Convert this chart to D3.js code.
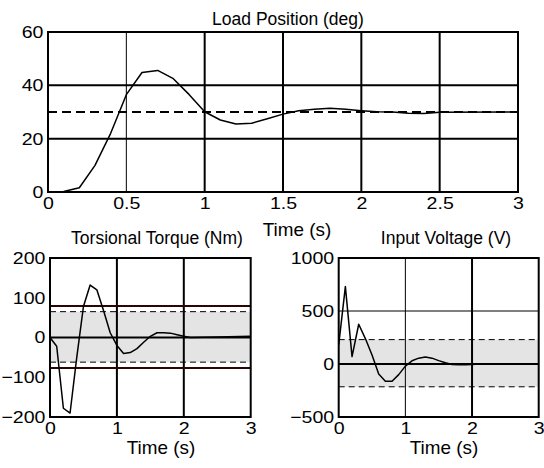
<!DOCTYPE html>
<html>
<head>
<meta charset="utf-8">
<script src="https://cdn.jsdelivr.net/npm/d3@7"></script>
<style>
  body { margin: 0; background: #fff; }
  svg { display: block; }
  text { font-family: "Liberation Sans", Arial, sans-serif; fill: #000; }
</style>
</head>
<body>
<svg></svg>
<script>
const width = 544;
const height = 468;

// Load position (deg)
const posTime = [0, 0.1, 0.2, 0.3, 0.4, 0.5, 0.6, 0.7, 0.8, 0.9, 1.0, 1.1, 1.2, 1.3, 1.4, 1.5, 1.6, 1.7, 1.8, 1.9, 2.0, 2.1, 2.2, 2.3, 2.4, 2.5, 3.0];
const posValues = [0, 0.2, 1.6, 10, 22, 36.5, 44.8, 45.6, 42.5, 36.6, 30.1, 27, 25.5, 25.8, 27.5, 29.2, 30.5, 31, 31.4, 31, 30.5, 30.1, 30, 29.5, 29.4, 29.9, 30];
const posSetpoint = 30;

// Torsional torque (Nm)
const torqueTime = [0, 0.1, 0.2, 0.3, 0.4, 0.5, 0.6, 0.7, 0.8, 0.9, 1.0, 1.1, 1.2, 1.3, 1.4, 1.5, 1.6, 1.7, 1.8, 1.9, 2.0, 2.1, 2.5, 3.0];
const torqueValues = [0, -22, -178, -190, -50, 78, 132, 120, 68, 12, -20, -40, -38, -28, -12, 3, 12, 12, 11, 7, 3, 0, 1, 3];
const torqueLimits = [79, -77];
const torqueBand = [65, -62];

// Input voltage (V)
const voltTime = [0, 0.1, 0.2, 0.3, 0.4, 0.5, 0.6, 0.7, 0.8, 0.9, 1.0, 1.1, 1.2, 1.3, 1.4, 1.5, 1.6, 1.7, 1.8, 1.9, 2.0, 2.1, 3.0];
const voltValues = [180, 730, 70, 375, 240, 85, -95, -162, -162, -100, -20, 30, 55, 65, 55, 32, 12, -5, -8, -8, -5, 0, 0];
const voltBand = [230, -215];

const svg = d3.select('svg')
	.attr('width', width)
	.attr('height', height);

const tickFont = 17;
const tickStretch = 1.15;
const titleFont = 17.5;
const labelFont = 18;

const drawPanel = opts => {
	const { left, right, top, bottom } = opts.box;
	const x = d3.scaleLinear().domain(opts.xDomain).range([left, right]);
	const y = d3.scaleLinear().domain(opts.yDomain).range([bottom, top]);
	const g = svg.append('g');

	// shaded band
	if (opts.band) {
		g.append('rect')
			.attr('x', left)
			.attr('y', y(opts.band[0]))
			.attr('width', right - left)
			.attr('height', y(opts.band[1]) - y(opts.band[0]))
			.attr('fill', '#e4e4e4');
	}

	// grid lines
	g.selectAll('.gx').data(opts.gridX)
		.enter().append('line')
		.attr('x1', d => x(d)).attr('x2', d => x(d))
		.attr('y1', top).attr('y2', bottom)
		.attr('stroke', '#000')
		.attr('stroke-width', d => opts.thinX.includes(d) ? 1 : 2);

	g.selectAll('.gy').data(opts.gridY)
		.enter().append('line')
		.attr('x1', left).attr('x2', right)
		.attr('y1', d => y(d)).attr('y2', d => y(d))
		.attr('stroke', '#000')
		.attr('stroke-width', d => opts.thinY.includes(d) ? 1 : 2);

	if (opts.band) {
		g.selectAll('.bd').data(opts.band)
			.enter().append('line')
			.attr('x1', left).attr('x2', right)
			.attr('y1', d => y(d)).attr('y2', d => y(d))
			.attr('stroke', '#000')
			.attr('stroke-width', 1)
			.attr('stroke-dasharray', '6,4');
	}

	if (opts.limits) {
		g.selectAll('.lim').data(opts.limits)
			.enter().append('line')
			.attr('x1', left).attr('x2', right)
			.attr('y1', d => y(d)).attr('y2', d => y(d))
			.attr('stroke', '#2a0505')
			.attr('stroke-width', 2);
	}

	if (opts.setpoint !== undefined) {
		g.append('line')
			.attr('x1', left).attr('x2', right)
			.attr('y1', y(opts.setpoint)).attr('y2', y(opts.setpoint))
			.attr('stroke', '#000')
			.attr('stroke-width', 2)
			.attr('stroke-dasharray', '9,5');
	}

	// response curve
	const line = d3.line()
		.x((d, i) => x(opts.time[i]))
		.y(d => y(d));
	g.append('path')
		.datum(opts.values)
		.attr('d', line)
		.attr('fill', 'none')
		.attr('stroke', '#000')
		.attr('stroke-width', 1.5)
		.attr('stroke-linejoin', 'round');

	// frame
	g.append('rect')
		.attr('x', left).attr('y', top)
		.attr('width', right - left).attr('height', bottom - top)
		.attr('fill', 'none')
		.attr('stroke', '#000')
		.attr('stroke-width', 2);

	// axes (labels only)
	const xAxisG = g.append('g')
		.attr('transform', `translate(0, ${bottom})`)
		.call(d3.axisBottom(x).tickValues(opts.xTicks).tickFormat(d3.format('')).tickSize(0).tickPadding(5));
	const yAxisG = g.append('g')
		.attr('transform', `translate(${left}, 0)`)
		.call(d3.axisLeft(y).tickValues(opts.yTicks).tickFormat(d3.format('')).tickSize(0).tickPadding(4));
	[xAxisG, yAxisG].forEach(a => {
		a.select('.domain').remove();
		a.selectAll('text')
			.attr('font-size', tickFont)
			.attr('font-family', null)
			.attr('fill', '#000')
			.attr('transform', `scale(${tickStretch}, 1)`);
	});

	g.append('text')
		.attr('transform', `translate(${opts.titlePos[0]}, ${opts.titlePos[1]})`)
		.attr('text-anchor', 'middle')
		.attr('font-size', titleFont)
		.text(opts.title);

	g.append('text')
		.attr('transform', `translate(${opts.xLabelPos[0]}, ${opts.xLabelPos[1]}) scale(1.05, 1)`)
		.attr('text-anchor', 'middle')
		.attr('font-size', labelFont)
		.text('Time (s)');
};

drawPanel({
	box: { left: 48, right: 518, top: 32, bottom: 192 },
	xDomain: [0, 3], yDomain: [0, 60],
	xTicks: [0, 0.5, 1, 1.5, 2, 2.5, 3],
	yTicks: [0, 20, 40, 60],
	gridX: [0.5, 1, 1.5, 2, 2.5], thinX: [0.5],
	gridY: [20, 40], thinY: [],
	setpoint: posSetpoint,
	time: posTime, values: posValues,
	title: 'Load Position (deg)', titlePos: [288, 25],
	xLabelPos: [297, 236]
});

drawPanel({
	box: { left: 50, right: 250.7, top: 258, bottom: 417 },
	xDomain: [0, 3], yDomain: [-200, 200],
	xTicks: [0, 1, 2, 3],
	yTicks: [-200, -100, 0, 100, 200],
	gridX: [1, 2], thinX: [],
	gridY: [0], thinY: [],
	band: torqueBand, limits: torqueLimits,
	time: torqueTime, values: torqueValues,
	title: 'Torsional Torque (Nm)', titlePos: [157, 244],
	xLabelPos: [161, 454]
});

drawPanel({
	box: { left: 338.7, right: 538.7, top: 258, bottom: 417 },
	xDomain: [0, 3], yDomain: [-500, 1000],
	xTicks: [0, 1, 2, 3],
	yTicks: [-500, 0, 500, 1000],
	gridX: [1, 2], thinX: [1],
	gridY: [0, 500], thinY: [500],
	band: voltBand,
	time: voltTime, values: voltValues,
	title: 'Input Voltage (V)', titlePos: [446, 244],
	xLabelPos: [444, 454]
});
</script>
</body>
</html>
